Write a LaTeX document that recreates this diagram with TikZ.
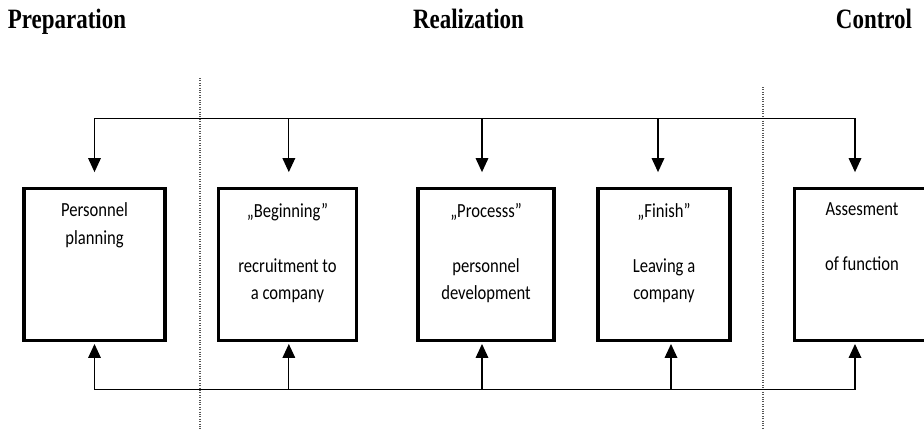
\documentclass[tikz,border=0pt]{standalone}
\usepackage{fontspec}
\usepackage{tikz}
\usetikzlibrary{arrows.meta,positioning}
\newfontfamily\boxfont[FakeStretch=0.83]{Carlito}
\newfontfamily\headfont[FakeStretch=0.82]{Liberation Serif}
\definecolor{sepgray}{HTML}{555555}
\tikzset{
  stagebox/.style={draw,line width=2.6pt,minimum width=#1,minimum height=114pt,inner sep=0pt},
  stagetext/.style={font=\boxfont\fontsize{15}{20.6}\selectfont,align=center,anchor=north,inner sep=0pt},
  phase/.style={font=\headfont\bfseries\fontsize{21}{24}\selectfont,anchor=base,inner sep=0pt},
  feed/.style={-{Triangle[length=10.5pt,width=9.5pt]},line width=0.9pt},
  bus/.style={line width=0.9pt},
  divider/.style={densely dotted,line width=0.8pt,sepgray}
}
\begin{document}
\begin{tikzpicture}[x=0.75pt,y=-0.75pt]
  \useasboundingbox (0,0) rectangle (924,429);
  % phase headings
  \node[phase] (prep) at (67,28) {Preparation};
  \node[phase] (real) at (468.5,28) {Realization};
  \node[phase] (ctrl) at (874,28) {Control};
  \draw[divider] (200,78) -- (200,429);
  \draw[divider] (763,87) -- (763,429);
  % stages
  \node[stagebox=105.75pt] (plan) at (94.5,264.5) {};
  \node[stagebox=103.5pt] (recruit) at (287.5,264.5) {};
  \node[stagebox=102pt] (process) at (486,264.5) {};
  \node[stagebox=99pt] (leave) at (664,264.5) {};
  \node[stagebox=103pt] (assess) at (863,264.5) {};
  \node[stagetext] (plantxt) at ([yshift=-12pt]plan.north) {Personnel\\planning};
  \node[stagetext] (recruittxt) at ([yshift=-12pt]recruit.north) {„Beginning”\\[20.6pt]recruitment to\\a company};
  \node[stagetext] (processtxt) at ([yshift=-12pt]process.north) {„Processs”\\[20.6pt]personnel\\development};
  \node[stagetext] (leavetxt) at ([yshift=-12pt]leave.north) {„Finish”\\[20.6pt]Leaving a\\company};
  \node[stagetext] (assesstxt) at ([xshift=-0.75pt,yshift=-12pt]assess.north) {Assesment\\[20.6pt]of function};
  % feed from above
  \draw[bus] ([yshift=51.4pt]plan.north) -- ([xshift=-6pt,yshift=51.4pt]assess.north);
  \foreach \n/\dx in {plan/0,recruit/1,process/-3,leave/-4.5,assess/-6}
    \draw[feed] ([xshift=\dx pt,yshift=51.4pt]\n.north) -- ([xshift=\dx pt,yshift=11pt]\n.north);
  % feedback from below
  \draw[bus] ([yshift=-35.6pt]plan.south) -- ([xshift=-6pt,yshift=-35.6pt]assess.south);
  \foreach \n/\dx in {plan/0,recruit/1,process/-3,leave/5.25,assess/-6}
    \draw[feed] ([xshift=\dx pt,yshift=-35.6pt]\n.south) -- ([xshift=\dx pt,yshift=-1.3pt]\n.south);
\end{tikzpicture}
\end{document}
